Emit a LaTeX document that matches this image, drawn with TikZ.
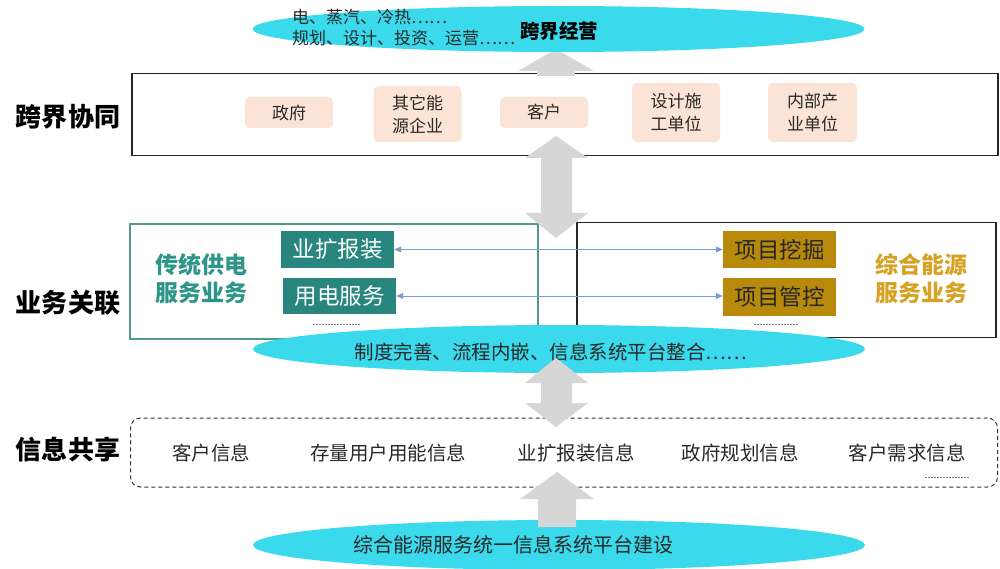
\documentclass[tikz,border=0pt]{standalone}
\usepackage{fontspec}
\setmainfont{Noto Sans CJK SC}
\usetikzlibrary{arrows.meta,shapes.geometric}
\definecolor{cyanell}{RGB}{58,217,235}
\definecolor{arrgray}{RGB}{214,214,214}
\definecolor{pinkc}{RGB}{251,228,213}
\definecolor{tealbox}{RGB}{40,134,126}
\definecolor{tealline}{RGB}{82,152,142}
\definecolor{tealtext}{RGB}{46,150,136}
\definecolor{goldbox}{RGB}{184,138,12}
\definecolor{goldtext}{RGB}{214,162,36}
\definecolor{bluearr}{RGB}{120,158,206}
\definecolor{textdark}{RGB}{40,40,40}
\begin{document}
\begin{tikzpicture}[x=1pt,y=-1pt,
  pinkbox/.style={rounded corners=5pt, fill=pinkc, minimum width=88pt, minimum height=31pt, inner sep=0pt, align=center, text=textdark, font=\fontsize{17}{23}\selectfont},
  ellbg/.style={ellipse, fill=cyanell, draw=none, minimum width=612pt, inner sep=0pt},
  fatarrow/.style={fill=arrgray, draw=none},
  sidelabel/.style={font=\bfseries\fontsize{26}{30}\selectfont, text=black, inner sep=0pt},
  tealb/.style={fill=tealbox, text=white, minimum width=113pt, minimum height=37pt, inner sep=0pt, font=\fontsize{22.5}{26}\selectfont},
  goldb/.style={fill=goldbox, text=black!85, minimum width=113pt, minimum height=37pt, inner sep=0pt, font=\fontsize{22.5}{26}\selectfont},
  infotext/.style={font=\fontsize{19.5}{22}\selectfont, text=textdark, inner sep=0pt},
  linkarrow/.style={draw=bluearr, line width=0.8pt, {Triangle[length=7pt,width=6pt]}-{Triangle[length=7pt,width=6pt]}},
  dotline/.style={draw=gray, line width=0.8pt, dash pattern=on 1.5pt off 1.5pt}
]
\useasboundingbox (0,0) rectangle (1000,569);

% ---------- layer 1 ----------
\node[sidelabel] (lab1) at (68,117) {跨界协同};
\node[draw=black!85, line width=1.3pt, minimum width=866pt, minimum height=82pt, inner sep=0pt] (box1) at (565,114.5) {};
\node[pinkbox] (zf) at (289,112.5) {政府};
\node[pinkbox, minimum height=56pt] (qt) at (417.5,114) {其它能\\源企业};
\node[pinkbox] (kh) at (544,112.5) {客户};
\node[pinkbox, minimum height=59pt] (sj) at (676,112.5) {设计施\\工单位};
\node[pinkbox, minimum height=59pt, minimum width=89pt] (nb) at (812.5,112.5) {内部产\\业单位};

% up arrow to top ellipse
\coordinate (a0) at (556,49);
\fill[fatarrow] (a0) -- ++(38,22) -- ++(-19,0) -- ++(0,5) -- ++(-38,0) -- ++(0,-5) -- ++(-19,0) -- cycle;

% ---------- top ellipse ----------
\node[ellbg, minimum height=46pt] (ellT) at (558.5,29) {};
\node[anchor=west, inner sep=0pt, font=\fontsize{17}{20}\selectfont, text=textdark] (tl1) at (292,17) {电、蒸汽、冷热……};
\node[anchor=west, inner sep=0pt, font=\fontsize{17}{20}\selectfont, text=textdark] (tl2) at (292,38) {规划、设计、投资、运营……};
\node[inner sep=0pt, font=\bfseries\fontsize{19.5}{22}\selectfont] (kjjy) at (559,31) {跨界经营};

% ---------- layer 2 ----------
\node[sidelabel] (lab2) at (68,303) {业务关联};
\node[draw=tealline, line width=1.2pt, minimum width=408pt, minimum height=115pt, inner sep=0pt] (boxL) at (334,281.5) {};
\node[draw=black!85, line width=1.3pt, minimum width=419pt, minimum height=115pt, inner sep=0pt] (boxR) at (786.5,280) {};
\node[align=center, inner sep=0pt, text=tealtext, font=\bfseries\fontsize{23}{28}\selectfont] (ctgd) at (201,279) {传统供电\\服务业务};
\node[align=center, inner sep=0pt, text=goldtext, font=\bfseries\fontsize{23}{28}\selectfont] (zhny) at (921,279) {综合能源\\服务业务};
\node[tealb] (ykbz) at (337.5,249.5) {业扩报装};
\node[tealb, minimum height=36pt] (ydfw) at (339.5,296) {用电服务};
\node[goldb] (xmwj) at (779.5,249.5) {项目挖掘};
\node[goldb, minimum height=38pt] (xmgk) at (779.5,297) {项目管控};
\draw[linkarrow] (ykbz.east) -- (xmwj.west);
\draw[linkarrow] (ydfw.east) -- (ydfw.east -| xmgk.west);
\draw[dotline] (313,324) -- (360,324);
\draw[dotline] (754,324) -- (799,324);

% middle ellipse
\node[ellbg, minimum height=48pt] (ellM) at (559,349) {};
\node[inner sep=0pt, font=\fontsize{19.5}{22}\selectfont, text=textdark] (zdws) at (551,352) {制度完善、流程内嵌、信息系统平台整合……};

% double arrow layer1 <-> layer2
\coordinate (a1) at (556,136);
\fill[fatarrow] (a1) -- ++(32,22) -- ++(-16,0) -- ++(0,55) -- ++(16,0) -- ++(-32,25) -- ++(-31,-25) -- ++(16,0) -- ++(0,-55) -- ++(-16,0) -- cycle;

% ---------- layer 3 ----------
\node[sidelabel] (lab3) at (68,450) {信息共享};
\node[draw=black!80, line width=1pt, dash pattern=on 4pt off 3pt, rounded corners=10pt, minimum width=867pt, minimum height=69pt, inner sep=0pt] (box3) at (564,452.5) {};
\node[infotext] (i1) at (211,453) {客户信息};
\node[infotext] (i2) at (388,453) {存量用户用能信息};
\node[infotext] (i3) at (576,453) {业扩报装信息};
\node[infotext] (i4) at (740,453) {政府规划信息};
\node[infotext] (i5) at (907,453) {客户需求信息};
\draw[dotline] (925,477) -- (970,477);

% double arrow middle ellipse <-> layer3
\coordinate (a2) at (556,358);
\fill[fatarrow] (a2) -- ++(32,25) -- ++(-16,0) -- ++(0,20) -- ++(16,0) -- ++(-32,24) -- ++(-31,-24) -- ++(16,0) -- ++(0,-20) -- ++(-16,0) -- cycle;

% bottom ellipse
\node[ellbg, minimum height=50pt] (ellB) at (559,545) {};
\node[inner sep=0pt, font=\fontsize{20}{22}\selectfont, text=textdark] (tyxx) at (513,545) {综合能源服务统一信息系统平台建设};

% up arrow from bottom ellipse
\coordinate (a3) at (557,472);
\fill[fatarrow] (a3) -- ++(37,27) -- ++(-18,0) -- ++(0,28) -- ++(-38,0) -- ++(0,-28) -- ++(-18,0) -- cycle;
\end{tikzpicture}
\end{document}
